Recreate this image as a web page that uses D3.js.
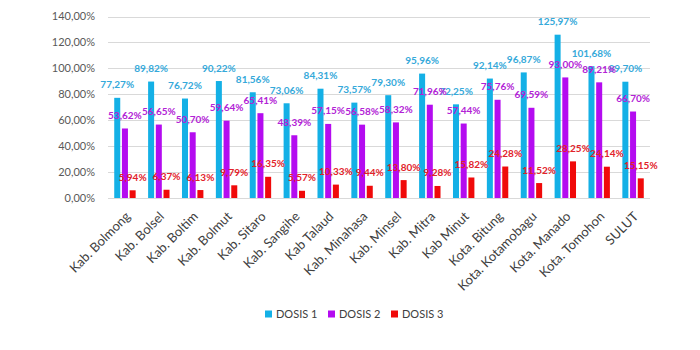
<!DOCTYPE html>
<html lang="en">
<head>
<meta charset="utf-8"/>
<title>Vaksinasi Sulut</title>
<script src="https://d3js.org/d3.v7.min.js"></script>
<style>
  body { margin: 0; background: #fff; }
  svg { font-family: Lato, "Open Sans", sans-serif; }
</style>
</head>
<body>
<script>
// data
var categories = ["Kab. Bolmong", "Kab. Bolsel", "Kab. Boltim", "Kab. Bolmut", "Kab. Sitaro", "Kab. Sangihe",
    "Kab Talaud", "Kab. Minahasa", "Kab. Minsel", "Kab. Mitra", "Kab Minut", "Kota. Bitung",
    "Kota. Kotamobagu", "Kota. Manado", "Kota. Tomohon", "SULUT"];
var seriesNames = ["DOSIS 1", "DOSIS 2", "DOSIS 3"];
var dosis1 = [77.27, 89.82, 76.72, 90.22, 81.56, 73.06, 84.31, 73.57, 79.30, 95.96, 72.25, 92.14, 96.87, 125.97, 101.68, 89.70];
var dosis2 = [53.62, 56.65, 50.70, 59.64, 65.41, 48.39, 57.15, 56.58, 58.32, 71.96, 57.44, 75.76, 69.59, 93.00, 89.21, 66.70];
var dosis3 = [5.94, 6.37, 6.13, 9.79, 16.35, 5.57, 10.33, 9.44, 13.80, 9.28, 15.82, 24.28, 11.52, 28.25, 24.14, 15.15];
var yTicks = [0, 20, 40, 60, 80, 100, 120, 140];

var barColors = ["#14b0e6", "#b40cf0", "#f00a0a"];
var labelColors = ["#35a9da", "#b222d6", "#e2222a"];

var w = 700, h = 350;
var values = [dosis1, dosis2, dosis3];

var svg = d3.select("body").append("svg")
    .attr("width", w)
    .attr("height", h);

var xScale = d3.scaleBand()
    .domain(categories)
    .range([108, 650]);

var inner = d3.scaleBand()
    .domain(seriesNames)
    .range([0, xScale.bandwidth()])
    .paddingInner(0.22)
    .paddingOuter(0.81);

var yScale = d3.scaleLinear()
    .domain([0, 140])
    .range([198, 16.5]);

var fmt = function (v) { return v.toFixed(2).replace(".", ",") + "%"; };

// gridlines
svg.append("g")
    .selectAll("line")
    .data(yTicks)
    .enter()
    .append("line")
    .attr("x1", 108)
    .attr("x2", 650)
    .attr("y1", function (d) { return Math.round(yScale(d)) + 0.5; })
    .attr("y2", function (d) { return Math.round(yScale(d)) + 0.5; })
    .attr("stroke", "#d9d9d9")
    .attr("stroke-width", 1);

// y axis labels
svg.append("g")
    .selectAll("text")
    .data(yTicks)
    .enter()
    .append("text")
    .attr("x", 95)
    .attr("y", function (d) { return yScale(d); })
    .attr("dy", "0.35em")
    .attr("text-anchor", "end")
    .attr("font-size", 11)
    .attr("fill", "#595959")
    .text(function (d) { return d.toFixed(2).replace(".", ",") + "%"; });

// bars
var groups = svg.selectAll("g.series")
    .data(seriesNames)
    .enter()
    .append("g")
    .attr("class", "series")
    .attr("fill", function (d, i) { return barColors[i]; });

groups.each(function (s, si) {
    var g = d3.select(this);
    g.selectAll("rect")
        .data(values[si])
        .enter()
        .append("rect")
        .attr("x", function (d, i) { return xScale(categories[i]) + inner(s); })
        .attr("y", function (d) { return yScale(d); })
        .attr("width", inner.bandwidth())
        .attr("height", function (d) { return yScale(0) - yScale(d); });
});

// value labels
groups.each(function (s, si) {
    var g = d3.select(this);
    g.selectAll("text")
        .data(values[si])
        .enter()
        .append("text")
        .attr("x", function (d, i) { return xScale(categories[i]) + inner(s) + inner.bandwidth() / 2; })
        .attr("y", function (d) { return yScale(d) - 13; })
        .attr("dy", "0.35em")
        .attr("text-anchor", "middle")
        .attr("font-size", 10)
        .attr("font-weight", "bold")
        .attr("fill", labelColors[si])
        .text(fmt);
});

// category labels
svg.append("g")
    .selectAll("text")
    .data(categories)
    .enter()
    .append("text")
    .attr("transform", function (d) {
        return "translate(" + (xScale(d) + xScale.bandwidth() / 2 + 3) + ",214) rotate(-45)";
    })
    .attr("text-anchor", "end")
    .attr("dy", "0.35em")
    .attr("font-size", 13)
    .attr("fill", "#404040")
    .text(function (d) { return d; });

// legend
var legendX = [265, 328, 391];
var legend = svg.append("g")
    .selectAll("g")
    .data(seriesNames)
    .enter()
    .append("g")
    .attr("transform", function (d, i) { return "translate(" + legendX[i] + ",314)"; });

legend.append("rect")
    .attr("x", 0)
    .attr("y", -3.5)
    .attr("width", 7)
    .attr("height", 7)
    .attr("fill", function (d, i) { return barColors[i]; });

legend.append("text")
    .attr("x", 11)
    .attr("dy", "0.35em")
    .attr("font-size", 11)
    .attr("fill", "#404040")
    .text(function (d) { return d; });
</script>
</body>
</html>
